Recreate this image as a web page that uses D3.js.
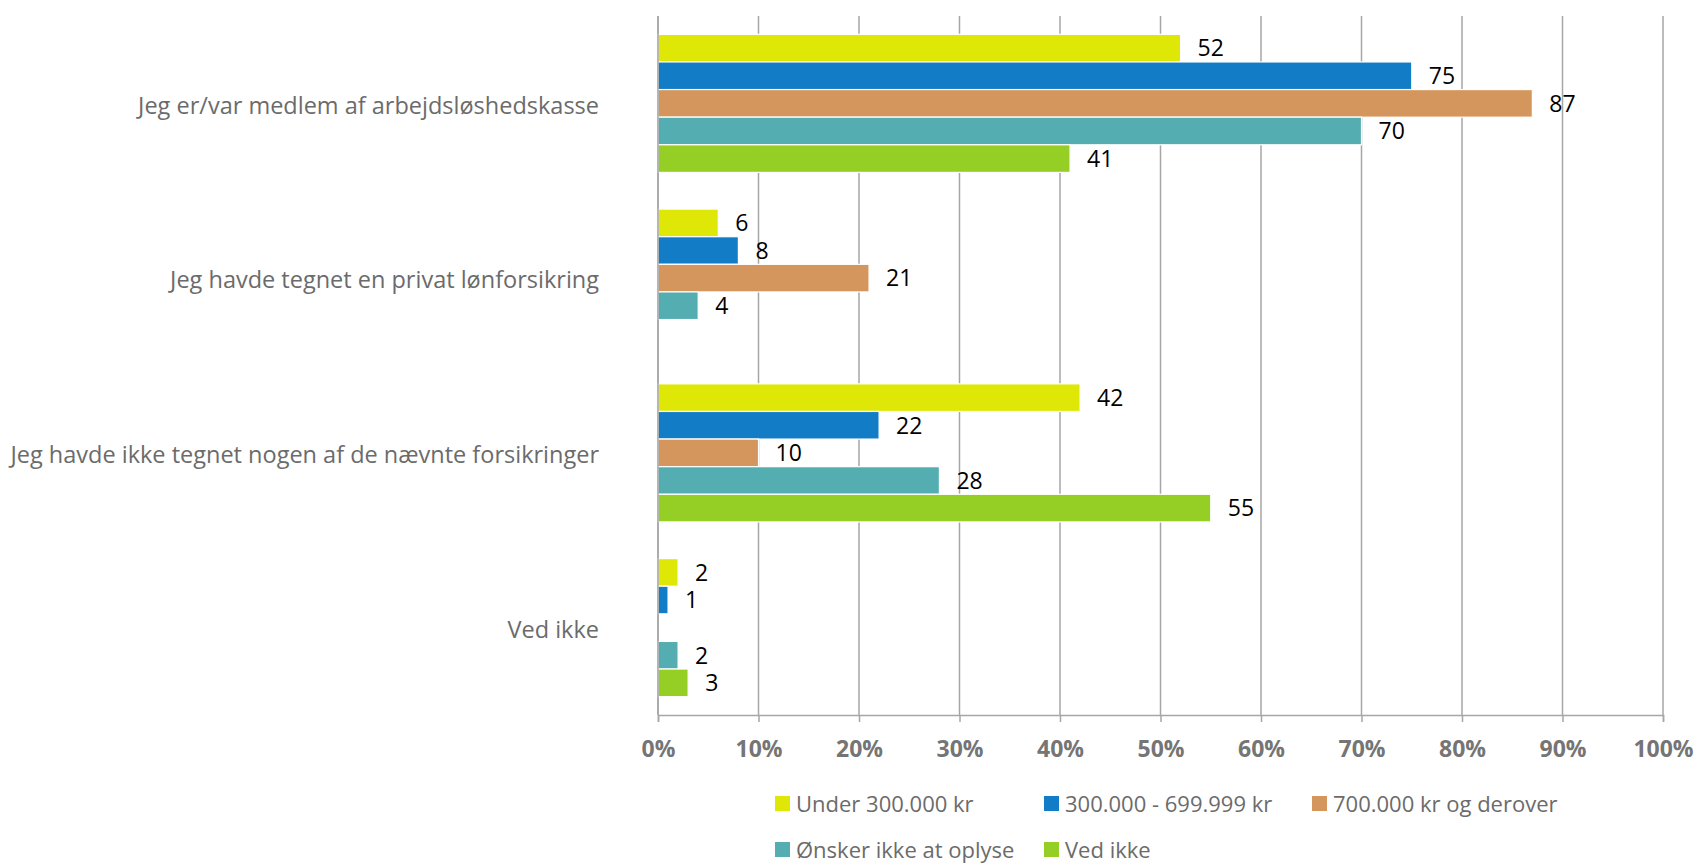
<!DOCTYPE html>
<html><head><meta charset="utf-8">
<script src="https://cdn.jsdelivr.net/npm/d3@7"></script>
<style>body{margin:0;background:#fff}</style>
</head><body>
<script>
const categories = ["Jeg er/var medlem af arbejdsløshedskasse","Jeg havde tegnet en privat lønforsikring","Jeg havde ikke tegnet nogen af de nævnte forsikringer","Ved ikke"];
const seriesNames = ["Under 300.000 kr","300.000 - 699.999 kr","700.000 kr og derover","Ønsker ikke at oplyse","Ved ikke"];
const under300 = [52, 6, 42, 2];
const mid300_699 = [75, 8, 22, 1];
const over700 = [87, 21, 10, null];
const oenskerIkke = [70, 4, 28, 2];
const vedIkke = [41, null, 55, 3];
const tickValues = [0,10,20,30,40,50,60,70,80,90,100];
const colors = ["#dfe707","#127dc6","#d4965c","#54adb1","#95cf26"];

(function(){
const seriesValues = [under300, mid300_699, over700, oenskerIkke, vedIkke];
const W = 1698, H = 868;
const svg = d3.select("body").append("svg").attr("width", W).attr("height", H);
const pL = 658, pR = 1663, pT = 16, pB = 715;
const font = "Open Sans, sans-serif";

const x = d3.scaleLinear().domain([0,100]).range([pL, pR]);
const y = d3.scaleBand().domain(categories).range([pT, pB]).paddingInner(0.21).paddingOuter(0.105);
const ys = d3.scaleBand().domain(d3.range(5)).range([0, y.bandwidth()]);

svg.append("g").selectAll("line").data(tickValues).join("line")
  .attr("x1", d => x(d)).attr("x2", d => x(d)).attr("y1", pT).attr("y2", pB)
  .attr("stroke", "#a6a6a6").attr("stroke-width", 1.5);

const g = svg.append("g");
seriesValues.forEach((vals, si) => {
  categories.forEach((c, ci) => {
    const v = vals[ci];
    if (v == null) return;
    const y0 = y(c) + ys(si);
    g.append("rect").attr("x", x(0)).attr("y", y0).attr("width", x(v) - x(0)).attr("height", ys.bandwidth())
      .attr("fill", colors[si]).attr("stroke", "#fff").attr("stroke-width", 1.2);
    g.append("text").attr("x", x(v) + 17).attr("y", y0 + ys.bandwidth()/2).attr("dy", "0.36em")
      .attr("font-family", font).attr("font-size", 23).attr("fill", "#000").text(v);
  });
});

const xAxis = d3.axisBottom(x).tickValues(tickValues).tickFormat(d => d + "%").tickSize(7).tickPadding(19);
const ax = svg.append("g").attr("transform", `translate(0,${pB})`).call(xAxis);
ax.select(".domain").attr("stroke", "#a6a6a6").attr("stroke-width", 1.5);
ax.selectAll(".tick line").attr("stroke", "#a6a6a6").attr("stroke-width", 1.5);
ax.selectAll(".tick text").attr("font-family", font).attr("font-size", 23).attr("font-weight", "bold").attr("fill", "#757575");

svg.append("line").attr("x1", pL).attr("x2", pL).attr("y1", pT).attr("y2", pB).attr("stroke", "#a6a6a6").attr("stroke-width", 1.5);

svg.append("g").selectAll("text").data(categories).join("text")
  .attr("x", 599).attr("y", d => y(d) + y.bandwidth()/2 + 2).attr("dy", "0.35em").attr("text-anchor", "end")
  .attr("font-family", font).attr("font-size", 23.5).attr("fill", "#6b6b6b").text(d => d);

const legendPos = [[775,804],[1044,804],[1312,804],[775,850],[1044,850]];
const lg = svg.append("g").selectAll("g").data(seriesNames).join("g")
  .attr("transform", (d,i) => `translate(${legendPos[i][0]},${legendPos[i][1]})`);
lg.append("rect").attr("x", 0).attr("y", -8).attr("width", 15).attr("height", 15).attr("fill", (d,i) => colors[i]);
lg.append("text").attr("x", 21).attr("y", 0).attr("dy", "0.35em").attr("font-family", font).attr("font-size", 22).attr("fill", "#6b6b6b").text(d => d);
})();
</script>
</body></html>
